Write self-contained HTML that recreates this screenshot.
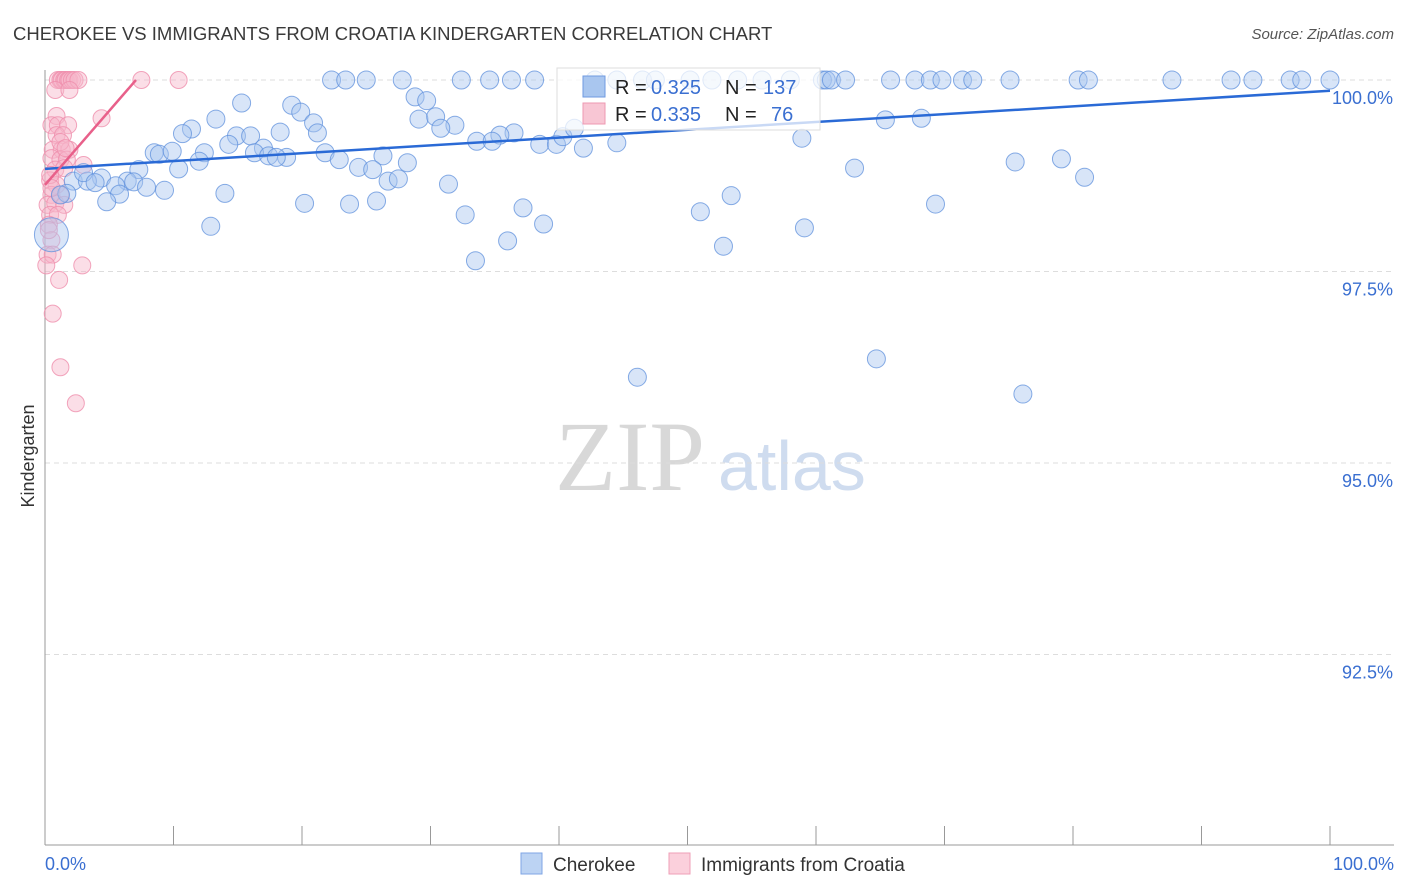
<!DOCTYPE html>
<html><head><meta charset="utf-8"><style>
body{margin:0;background:#fff;font-family:"Liberation Sans",sans-serif}
svg{display:block}
</style></head><body>
<svg id="chart" width="1406" height="892" xmlns="http://www.w3.org/2000/svg">
<text x="13" y="40" font-size="18.5" fill="#3a3a3a">CHEROKEE VS IMMIGRANTS FROM CROATIA KINDERGARTEN CORRELATION CHART</text>
<text x="1394" y="39" font-size="15" font-style="italic" fill="#555" text-anchor="end">Source: ZipAtlas.com</text>
<g>
<text x="555" y="490" font-family="Liberation Serif,serif" font-size="100" fill="#d8d8d8">ZIP</text>
<text x="718" y="490" font-size="70" fill="#cfdcef">atlas</text>
</g>
<g id="grid"></g>
<g id="axes"></g>
<g id="pinkPts"></g>
<g id="bluePts"></g>
<g id="lines"></g>
<text transform="translate(34,456) rotate(-90)" font-size="18" fill="#333" text-anchor="middle">Kindergarten</text>
<g>
<rect x="557" y="68" width="263" height="62" fill="#fff" fill-opacity="0.75" stroke="#ddd"/>
<rect x="583" y="76" width="22" height="21" fill="#a9c6ef" stroke="#6f9ae0"/>
<text x="615" y="94" font-size="20" fill="#222">R =</text>
<text x="651" y="94" font-size="20" fill="#3a6fd1">0.325</text>
<text x="725" y="94" font-size="20" fill="#222">N =</text>
<text x="763" y="94" font-size="20" fill="#3a6fd1">137</text>
<rect x="583" y="103" width="22" height="21" fill="#f8c6d4" stroke="#ee98b2"/>
<text x="615" y="121" font-size="20" fill="#222">R =</text>
<text x="651" y="121" font-size="20" fill="#3a6fd1">0.335</text>
<text x="725" y="121" font-size="20" fill="#222">N =</text>
<text x="771" y="121" font-size="20" fill="#3a6fd1">76</text>
</g>
<g>
<rect x="521" y="853" width="21" height="21" fill="#bcd3f3" stroke="#7fa6e4"/>
<text x="553" y="871" font-size="19" fill="#333">Cherokee</text>
<rect x="669" y="853" width="21" height="21" fill="#fbd0dc" stroke="#ef9fb7"/>
<text x="701" y="871" font-size="19" fill="#333">Immigrants from Croatia</text>
</g>
</svg>
<script>
const yTicks=[100,97.5,95,92.5];
const yTickLabels=["100.0%","97.5%","95.0%","92.5%"];
const xTickLabels=["0.0%","100.0%"];
const blueX=[22.3,23.4,25.0,27.8,32.4,34.6,36.3,38.1,42.8,44.5,46.5,47.5,50.2,51.9,53.9,55.8,58.0,60.5,60.8,61.2,62.3,65.8,67.7,68.9,69.8,71.4,72.2,75.1,80.4,81.2,87.7,92.3,94.0,96.9,97.8,100,
28.8,29.7,15.3,19.2,19.9,13.3,20.9,29.1,30.4,31.9,30.8,11.4,10.7,18.3,21.2,14.9,16.0,14.3,17.0,36.5,35.4,33.6,34.8,38.5,39.8,40.3,41.2,44.5,41.9,21.8,8.5,8.9,9.9,12.4,16.3,17.4,18.8,18.0,22.9,26.3,28.2,24.4,25.5,12.0,10.4,7.3,4.4,2.2,3.3,3.0,3.9,6.4,5.5,6.9,7.9,9.3,5.8,1.7,1.2,4.8,14.0,20.2,23.7,25.8,26.7,27.5,31.4,63.0,75.5,79.1,80.9,58.9,65.4,68.2,53.4,51.0,37.2,32.7,38.8,36.0,33.5,52.8,59.1,12.9,69.3,64.7,46.1,76.1,0.5];
const blueY=[100,100,100,100,100,100,100,100,100,100,100,100,100,100,100,100,100,100,100,100,100,100,100,100,100,100,100,100,100,100,100,100,100,100,100,100,
99.78,99.73,99.70,99.67,99.58,99.49,99.44,99.49,99.52,99.41,99.37,99.36,99.30,99.32,99.31,99.27,99.27,99.16,99.11,99.31,99.28,99.20,99.20,99.16,99.16,99.26,99.37,99.18,99.11,99.05,99.05,99.03,99.07,99.05,99.05,99.01,98.99,98.99,98.96,99.01,98.92,98.86,98.83,98.94,98.84,98.83,98.72,98.68,98.68,98.79,98.66,98.68,98.62,98.67,98.60,98.56,98.51,98.52,98.50,98.41,98.52,98.39,98.38,98.42,98.68,98.71,98.64,98.85,98.93,98.97,98.73,99.24,99.48,99.50,98.49,98.28,98.33,98.24,98.12,97.90,97.64,97.83,98.07,98.09,98.38,96.36,96.12,95.90,97.98];
const pinkX=[1.0,1.2,1.3,1.5,1.6,1.8,1.9,2.1,2.3,2.6,7.5,10.4,0.8,1.9,0.9,4.4,0.5,1.0,1.8,0.9,1.4,0.6,1.3,1.9,0.5,1.2,1.7,0.8,1.5,3.0,0.4,0.9,0.5,1.2,0.2,0.8,1.5,0.4,1.0,0.3,0.5,0.2,0.6,0.1,2.9,1.1,0.6,1.2,2.4,0.4,0.5,1.2,1.6,0.3];
const pinkY=[100,100,100,100,100,100,100,100,100,100,100,100,99.87,99.87,99.53,99.50,99.41,99.41,99.41,99.28,99.28,99.09,99.09,99.09,98.98,98.96,98.96,98.83,98.85,98.89,98.69,98.63,98.50,98.50,98.37,98.39,98.37,98.24,98.24,98.11,97.91,97.72,97.72,97.58,97.58,97.39,96.95,96.25,95.78,98.76,98.59,99.19,99.11,98.04];
const blueTrend=[98.84,99.86];
const pinkTrend=[98.63,100,7.08];

const X=v=>45+v*12.85;
const Y=v=>80+(100-v)*76.6;
const NS="http://www.w3.org/2000/svg";
function mk(tag,attrs,parent){const e=document.createElementNS(NS,tag);for(const k in attrs)e.setAttribute(k,attrs[k]);parent.appendChild(e);return e;}
const grid=document.getElementById('grid'),axes=document.getElementById('axes');
yTicks.forEach((t,i)=>{
  const l=mk('line',{x1:45,x2:1394,y1:Y(t),y2:Y(t),stroke:'#ddd','stroke-dasharray':'5,4'},grid);
  
  
  const tx=mk('text',{x:1393,y:Y(t)+24,'font-size':18,fill:'#3a6fd1','text-anchor':'end'},axes);
  tx.textContent=yTickLabels[i];
  
  
});
const ya=mk('line',{x1:45,x2:45,y1:70,y2:845,stroke:'#999'},axes);


const xa=mk('line',{x1:45,x2:1394,y1:845,y2:845,stroke:'#999'},axes);


for(let i=1;i<=10;i++){
  const tk=mk('line',{x1:X(i*10),x2:X(i*10),y1:826,y2:845,stroke:'#999'},axes);
  
  
}
[[0,'start',45],[100,'end',1394]].forEach((d,i)=>{
  const tx=mk('text',{x:d[2],y:870,'font-size':18,fill:'#3a6fd1','text-anchor':d[1]},axes);
  tx.textContent=xTickLabels[i];
  
  
});
const pg=document.getElementById('pinkPts');
pinkX.forEach((x,i)=>{
  const c=mk('circle',{cx:X(x),cy:Y(pinkY[i]),r:8.5,fill:'#f7b6c9','fill-opacity':0.45,stroke:'#ef8fac','stroke-opacity':0.8},pg);
  
  
});
const bg=document.getElementById('bluePts');
blueX.forEach((x,i)=>{
  const big=i===blueX.length-1;
  const c=mk('circle',{cx:X(x),cy:Y(blueY[i]),r:big?17:9,fill:'#a9c6ef','fill-opacity':0.45,stroke:'#5f90dc','stroke-opacity':0.75},bg);
  
  
});
const lg=document.getElementById('lines');
const bl=mk('line',{x1:X(0),y1:Y(blueTrend[0]),x2:X(100),y2:Y(blueTrend[1]),stroke:'#2a6ad6','stroke-width':2.5},lg);


const pl=mk('line',{x1:X(0),y1:Y(pinkTrend[0]),x2:X(pinkTrend[2]),y2:Y(pinkTrend[1]),stroke:'#e8608a','stroke-width':2.5},lg);


</script>
</body></html>
